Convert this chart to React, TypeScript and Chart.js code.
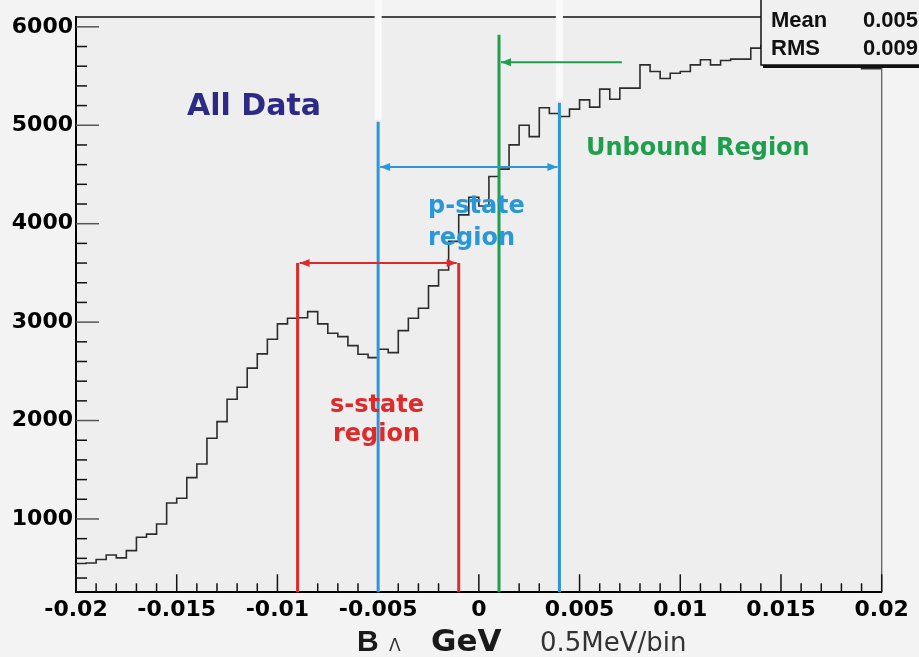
import React, { useEffect, useRef } from "react";
import { Chart, registerables } from "chart.js";

Chart.register(...registerables);

// ---- histogram definition ----
const X_MIN = -0.02;
const X_MAX = 0.02;
const BIN_WIDTH = 0.0005; // 0.5 MeV/bin
const Y_MIN = 255;
const Y_MAX = 6100;

// counts per bin (80 bins from -0.02 to 0.02)
const binCounts = [
  520, 548, 552, 588, 634, 605, 678, 814, 846, 949,
  1162, 1210, 1420, 1559, 1820, 1989, 2216, 2338, 2533, 2677,
  2826, 2982, 3040, 3045, 3107, 2982, 2887, 2853, 2761, 2674,
  2639, 2724, 2690, 2914, 3040, 3141, 3368, 3530, 3820, 4090,
  4269, 4180, 4479, 4554, 4801, 5000, 4885, 5178, 5120, 5089,
  5164, 5258, 5184, 5367, 5265, 5377, 5377, 5614, 5546, 5475,
  5529, 5546, 5614, 5665, 5614, 5658, 5672, 5672, 5784, 5810,
  5840, 5800, 5870, 5890, 5860, 5920, 5950, 5910, 5930, 5575,
];

const xTickValues = [-0.02, -0.015, -0.01, -0.005, 0, 0.005, 0.01, 0.015, 0.02];
const xTickLabels = ["-0.02", "-0.015", "-0.01", "-0.005", "0", "0.005", "0.01", "0.015", "0.02"];
const yTickValues = [1000, 2000, 3000, 4000, 5000, 6000];
const yTickLabels = ["1000", "2000", "3000", "4000", "5000", "6000"];
const xMinorStep = 0.001;
const yMinorStep = 200;

// region markers (data coordinates)
const sRegionEdges = [-0.009, -0.001];
const sRegionTop = 3600;
const pRegionEdges = [-0.005, 0.004];
const pRegionTops = [5035, 5230];
const pRegionArrowY = 4575;
const unboundEdge = 0.001;
const unboundTop = 5920;
const unboundArrowEnd = 0.0071;
const unboundArrowY = 5640;

const statNames = ["Mean", "RMS"];
const statValues = ["0.005", "0.009"];

const RED = "#dd2b2b";
const BLUE = "#2a98d8";
const GREEN = "#1f9e4e";

function drawArrow(
  ctx: CanvasRenderingContext2D,
  x1: number,
  x2: number,
  y: number,
  color: string,
  headLeft: boolean,
  headRight: boolean
) {
  ctx.save();
  ctx.strokeStyle = color;
  ctx.fillStyle = color;
  ctx.lineWidth = 2;
  ctx.beginPath();
  ctx.moveTo(x1, y);
  ctx.lineTo(x2, y);
  ctx.stroke();
  const hl = 10;
  const hw = 4;
  if (headLeft) {
    ctx.beginPath();
    ctx.moveTo(x1, y);
    ctx.lineTo(x1 + hl, y - hw);
    ctx.lineTo(x1 + hl, y + hw);
    ctx.closePath();
    ctx.fill();
  }
  if (headRight) {
    ctx.beginPath();
    ctx.moveTo(x2, y);
    ctx.lineTo(x2 - hl, y - hw);
    ctx.lineTo(x2 - hl, y + hw);
    ctx.closePath();
    ctx.fill();
  }
  ctx.restore();
}

const decorPlugin = {
  id: "decor",
  beforeDraw(chart: any) {
    const { ctx, chartArea: a } = chart;
    ctx.save();
    ctx.fillStyle = "#f3f3f3";
    ctx.fillRect(0, 0, chart.width, chart.height);
    ctx.fillStyle = "#eeeeee";
    ctx.fillRect(a.left, a.top, a.right - a.left, a.bottom - a.top);
    ctx.restore();
  },
  afterDraw(chart: any) {
    const { ctx, chartArea: a } = chart;
    const xs = chart.scales.x;
    const ys = chart.scales.y;
    const px = (v: number) => xs.getPixelForValue(v);
    const py = (v: number) => ys.getPixelForValue(v);
    ctx.save();

    // frame top & right
    ctx.strokeStyle = "#111";
    ctx.lineWidth = 1.5;
    ctx.beginPath();
    ctx.moveTo(a.left, a.top);
    ctx.lineTo(a.right, a.top);
    ctx.stroke();
    ctx.strokeStyle = "#555";
    ctx.lineWidth = 1.2;
    ctx.beginPath();
    ctx.moveTo(a.right, a.top);
    ctx.lineTo(a.right, a.bottom);
    ctx.stroke();

    // y ticks (inward)
    for (let v = 400; v <= Y_MAX; v += yMinorStep) {
      const major = yTickValues.includes(v);
      const y = py(v);
      ctx.strokeStyle = major ? "#555" : "#111";
      ctx.lineWidth = 1.5;
      ctx.beginPath();
      ctx.moveTo(a.left, y);
      ctx.lineTo(a.left + (major ? 23 : 11), y);
      ctx.stroke();
    }
    // x ticks (inward)
    const nMinor = Math.round((X_MAX - X_MIN) / xMinorStep);
    for (let i = 0; i <= nMinor; i++) {
      const v = X_MIN + i * xMinorStep;
      const major = i % 5 === 0;
      const x = px(v);
      ctx.strokeStyle = "#111";
      ctx.lineWidth = 1.5;
      ctx.beginPath();
      ctx.moveTo(x, a.bottom);
      ctx.lineTo(x, a.bottom - (major ? 18 : 9));
      ctx.stroke();
    }

    // white streaks above blue lines
    ctx.fillStyle = "#fafafa";
    pRegionEdges.forEach((e, i) => {
      const x = px(e);
      ctx.fillRect(x - 3.5, 0, 7, py(pRegionTops[i]) - 2);
    });

    // region lines
    const vline = (x: number, top: number, color: string) => {
      ctx.strokeStyle = color;
      ctx.lineWidth = 3;
      ctx.beginPath();
      ctx.moveTo(x, a.bottom);
      ctx.lineTo(x, top);
      ctx.stroke();
    };
    sRegionEdges.forEach((e) => vline(px(e), py(sRegionTop), RED));
    pRegionEdges.forEach((e, i) => vline(px(e), py(pRegionTops[i]), BLUE));
    vline(px(unboundEdge), py(unboundTop), GREEN);

    drawArrow(ctx, px(sRegionEdges[0]) + 2, px(sRegionEdges[1]) - 2, py(sRegionTop), RED, true, true);
    drawArrow(ctx, px(pRegionEdges[0]) + 2, px(pRegionEdges[1]) - 2, py(pRegionArrowY), BLUE, true, true);
    drawArrow(ctx, px(unboundEdge) + 2, px(unboundArrowEnd), py(unboundArrowY), GREEN, true, false);

    // texts
    ctx.textBaseline = "alphabetic";
    ctx.textAlign = "left";
    ctx.fillStyle = "#2d2a85";
    ctx.font = "bold 30px 'DejaVu Sans'";
    ctx.fillText("All Data", 187, 115);

    ctx.fillStyle = GREEN;
    ctx.font = "bold 24px 'DejaVu Sans'";
    ctx.fillText("Unbound Region", 586, 155);

    ctx.fillStyle = BLUE;
    ctx.font = "bold 24px 'DejaVu Sans'";
    ctx.fillText("p-state", 428, 213);
    ctx.fillText("region", 428, 245);

    ctx.fillStyle = RED;
    ctx.font = "bold 24px 'DejaVu Sans'";
    ctx.fillText("s-state", 330, 412);
    ctx.fillText("region", 333, 441);

    // axis title
    ctx.fillStyle = "#1a1a1a";
    ctx.font = "bold 30px 'Liberation Sans'";
    ctx.fillText("B", 357, 651);
    ctx.font = "17px 'DejaVu Sans'";
    ctx.fillStyle = "#333";
    ctx.fillText("\u039B", 389, 651);
    ctx.fillStyle = "#1a1a1a";
    ctx.font = "bold 31px 'DejaVu Sans'";
    ctx.fillText("GeV", 431, 651);
    ctx.fillStyle = "#333";
    ctx.font = "26px 'DejaVu Sans'";
    ctx.fillText("0.5MeV/bin", 540, 651);

    // stats box
    ctx.fillStyle = "#f0f0f0";
    ctx.fillRect(761, -2, 170, 67);
    ctx.strokeStyle = "#111";
    ctx.lineWidth = 1.5;
    ctx.strokeRect(761, -2, 170, 67);
    ctx.fillStyle = "#111";
    ctx.fillRect(763, 65, 170, 3);
    ctx.fillStyle = "#111";
    ctx.font = "bold 22px 'Liberation Sans'";
    statNames.forEach((n, i) => {
      const base = i === 0 ? 26.5 : 55;
      ctx.fillText(n, 771, base);
      ctx.fillText(statValues[i], 863, base);
    });

    ctx.restore();
  },
};

export default function App() {
  const canvasRef = useRef<HTMLCanvasElement | null>(null);

  useEffect(() => {
    const canvas = canvasRef.current;
    if (!canvas) return;
    const points = binCounts.map((c, i) => ({ x: X_MIN + i * BIN_WIDTH, y: c }));
    points.push({ x: X_MAX, y: binCounts[binCounts.length - 1] });

    const tickFont = { family: "'DejaVu Sans'", weight: "bold" as const, size: 22 };

    const chart = new Chart(canvas, {
      type: "line",
      data: {
        datasets: [
          {
            data: points,
            stepped: "after",
            borderColor: "#2c2c2c",
            borderWidth: 1.6,
            pointRadius: 0,
            fill: false,
          },
        ],
      },
      options: {
        animation: false,
        responsive: false,
        devicePixelRatio: 1,
        layout: { padding: { top: 17, right: 37.3, left: 0, bottom: 0 } },
        plugins: { legend: { display: false }, tooltip: { enabled: false } },
        scales: {
          x: {
            type: "linear",
            min: X_MIN,
            max: X_MAX,
            afterBuildTicks: (s: any) => {
              s.ticks = xTickValues.map((v) => ({ value: v }));
            },
            afterFit: (s: any) => {
              s.height = 64.7;
            },
            ticks: {
              callback: (_v: any, i: number) => xTickLabels[i],
              font: tickFont,
              color: "#000",
              padding: 5,
              maxRotation: 0,
              autoSkip: false,
            },
            grid: { display: false, drawTicks: false },
            border: { display: true, color: "#000", width: 2 },
          },
          y: {
            type: "linear",
            min: Y_MIN,
            max: Y_MAX,
            afterBuildTicks: (s: any) => {
              s.ticks = yTickValues.map((v) => ({ value: v }));
            },
            afterFit: (s: any) => {
              s.width = 76;
            },
            ticks: {
              callback: (_v: any, i: number) => yTickLabels[i],
              font: tickFont,
              color: "#000",
              padding: 3,
              autoSkip: false,
            },
            grid: { display: false, drawTicks: false },
            border: { display: true, color: "#000", width: 2 },
          },
        },
      },
      plugins: [decorPlugin],
    } as any);
    return () => chart.destroy();
  }, []);

  return (
    <div style={{ position: "absolute", left: 0, top: 0, width: 919, height: 657 }}>
      <canvas ref={canvasRef} width={919} height={657} style={{ display: "block" }} />
    </div>
  );
}
